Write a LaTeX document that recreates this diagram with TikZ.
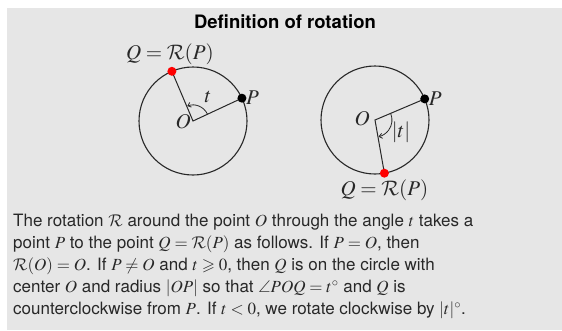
\documentclass[tikz,border=0pt]{standalone}
\usepackage{fix-cm}
\usepackage{amssymb}
\usepackage{mathptmx}
\DeclareMathAlphabet{\mathcal}{OMS}{cmsy}{m}{n}
\usepackage[no-math]{fontspec}
\setmainfont{TeX Gyre Heros}
\usetikzlibrary{arrows.meta,calc}
\definecolor{bgray}{RGB}{230,230,230}
\definecolor{ink}{RGB}{40,40,40}
\begin{document}
\begin{tikzpicture}[x=1pt,y=1pt,
  circ/.style={draw=ink,line width=1.1pt},
  seg/.style={draw=ink,line width=1pt},
  angarrow/.style={draw=ink,line width=0.8pt,-{Straight Barb[length=3pt,width=5pt]}},
  dotb/.style={circle,fill=black,inner sep=0pt,minimum size=9pt},
  dotr/.style={circle,fill=red,inner sep=0pt,minimum size=9pt},
  lab/.style={font=\fontsize{21}{24}\selectfont,inner sep=1pt,text=ink},
  body/.style={font=\fontsize{17}{22}\selectfont,align=left,inner sep=0pt,text=ink},
  ttl/.style={font=\fontsize{18.5}{21}\selectfont\bfseries,inner sep=0pt,text=black}]
\useasboundingbox (0,0) rectangle (562,-330);
\fill[white] (0,0) rectangle (562,-330);
\fill[bgray] (7,-8) rectangle (562,-330);

\node[ttl] (title) at (285,-22) {Definition of rotation};

% left circle
\coordinate (OL) at (193,-121);
\coordinate (PL) at ($(OL)+(25:54)$);
\coordinate (QL) at ($(OL)+(113:54)$);
\draw[circ] (OL) circle[radius=54];
\draw[seg] (PL) -- (OL) -- (QL);
\draw[angarrow] ($(OL)+(25:16)$) arc[start angle=25,end angle=111,radius=16];
\node[dotb] (PLd) at (PL) {};
\node[dotr] (QLd) at (QL) {};
\node[lab,anchor=west] (PLl) at ($(PL)+(3,0)$) {$P$};
\node[lab,anchor=south] (QLl) at ($(QL)+(-2,5)$) {$Q=\mathcal{R}(P)$};
\node[lab,anchor=east] (OLl) at ($(OL)+(-1,-1)$) {$O$};
\node[lab] (tL) at (208,-97) {$t$};

% right circle
\coordinate (OR) at (375,-120);
\coordinate (PR) at ($(OR)+(23:54)$);
\coordinate (QR) at ($(OR)+(-80:54)$);
\draw[circ] (OR) circle[radius=54];
\draw[seg] (PR) -- (OR) -- (QR);
\draw[angarrow] ($(OR)+(23:17)$) arc[start angle=23,end angle=-78,radius=17];
\node[dotb] (PRd) at (PR) {};
\node[dotr] (QRd) at (QR) {};
\node[lab,anchor=west] (PRl) at ($(PR)+(3,0)$) {$P$};
\node[lab,anchor=north] (QRl) at ($(QR)+(0,-5)$) {$Q=\mathcal{R}(P)$};
\node[lab,anchor=east] (ORl) at ($(OR)+(-4,1)$) {$O$};
\node[lab] (tR) at (401,-132) {$|t|$};

% body text
\node[body,anchor=north west] (txt) at (13,-214) {%
The rotation $\mathcal{R}$ around the point $O$ through the angle $t$ takes a\\
point $P$ to the point $Q=\mathcal{R}(P)$ as follows. If $P=O$, then\\
$\mathcal{R}(O)=O$. If $P\neq O$ and $t\geqslant 0$, then $Q$ is on the circle with\\
center $O$ and radius $|OP|$ so that $\angle POQ=t^\circ$ and $Q$ is\\
counterclockwise from $P$. If $t<0$, we rotate clockwise by $|t|^\circ$.};
\end{tikzpicture}
\end{document}
